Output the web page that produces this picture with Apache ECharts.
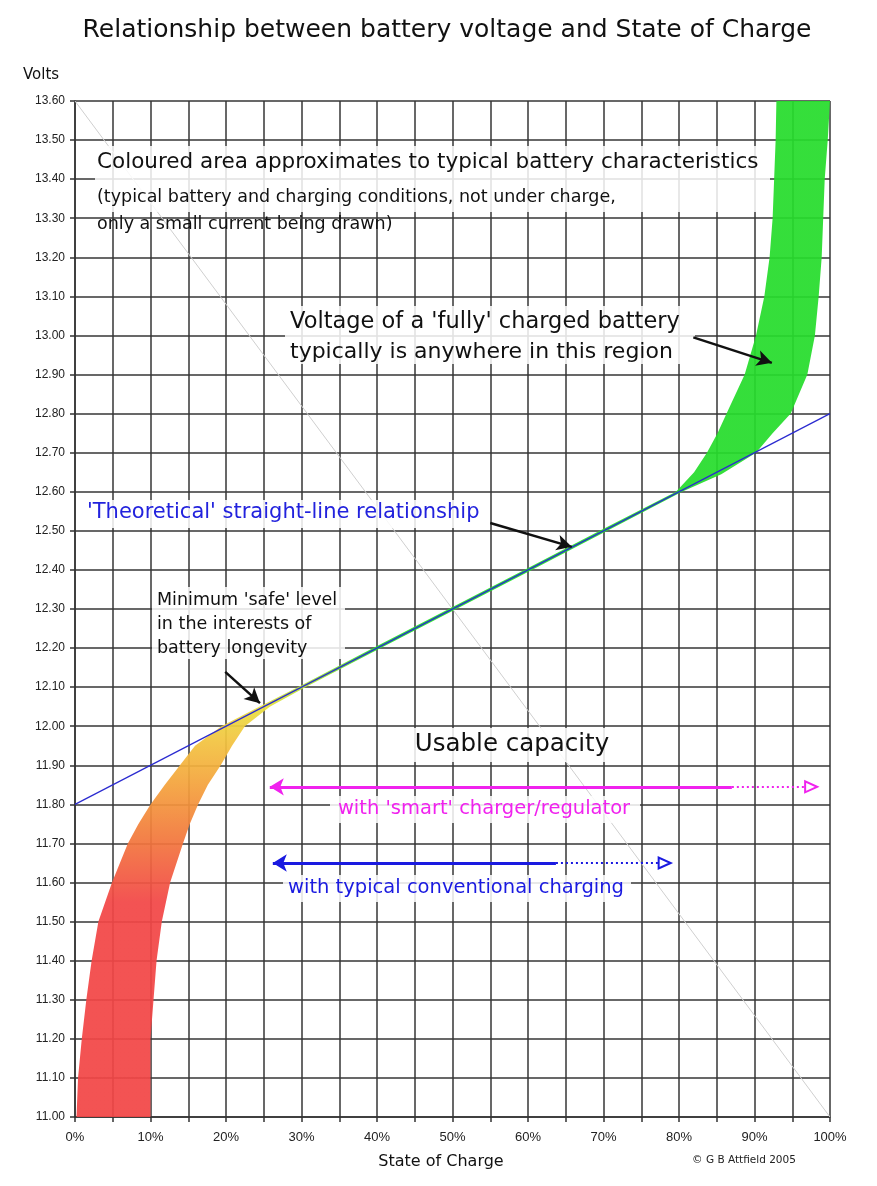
<!DOCTYPE html>
<html>
<head>
<meta charset="utf-8">
<title>Relationship between battery voltage and State of Charge</title>
<script src="https://cdn.jsdelivr.net/npm/echarts@6/dist/echarts.min.js"></script>
<style>
  html, body { margin: 0; padding: 0; background: #fff; }
  #main { width: 877px; height: 1186px; }
</style>
</head>
<body>
<div id="main"></div>
<script>
// band edges as [state of charge %, volts], read bottom to top
const bandUpperEdge = [
  [0.2, 11.0], [0.4, 11.1], [0.9, 11.2], [1.5, 11.3], [2.2, 11.4], [3.1, 11.5],
  [4.9, 11.6], [7.0, 11.7], [8.4, 11.75], [10.0, 11.8], [11.9, 11.85], [13.9, 11.9],
  [15.9, 11.95], [19.4, 12.0], [24.4, 12.05], [29.5, 12.1], [39.5, 12.2], [49.5, 12.3],
  [59.5, 12.4], [69.5, 12.5], [79.6, 12.6], [82.0, 12.65], [83.7, 12.7], [85.1, 12.75],
  [86.3, 12.8], [88.7, 12.9], [90.2, 13.0], [91.3, 13.1], [92.0, 13.2], [92.4, 13.3],
  [92.6, 13.4], [92.8, 13.5], [92.9, 13.6]
]
const bandLowerEdge = [
  [10.0, 11.0], [10.0, 11.1], [10.0, 11.2], [10.4, 11.3], [10.8, 11.4], [11.5, 11.5],
  [12.6, 11.6], [14.3, 11.7], [15.2, 11.75], [16.3, 11.8], [17.6, 11.85], [19.3, 11.9],
  [20.8, 11.95], [22.5, 12.0], [25.8, 12.05], [30.5, 12.1], [40.5, 12.2], [50.5, 12.3],
  [60.5, 12.4], [70.5, 12.5], [80.4, 12.6], [85.6, 12.645], [90.2, 12.7], [92.4, 12.75],
  [94.8, 12.8], [97.0, 12.9], [98.0, 13.0], [98.5, 13.1], [98.9, 13.2], [99.1, 13.3],
  [99.3, 13.4], [99.7, 13.5], [100, 13.6]
]
// colour of the band by voltage
const bandColours = [
  [11.0, '#f24646'], [11.55, '#f24646'], [11.72, '#f27a3c'], [11.85, '#f4a23c'],
  [11.97, '#f2c640'], [12.05, '#e8e040'], [12.12, '#9ce232'], [12.2, '#26dc2c']
]
const theoryLine = [[0, 11.8], [100, 12.8]]
const faintDiagonal = [[0, 13.6], [100, 11.0]]

// usable capacity arrows: [tip %, end of solid %, end of dotted %, volts]
const smartArrow = [25.8, 87.0, 97.5, 11.845]
const typicalArrow = [26.2, 63.7, 78.1, 11.65]

// pointer arrows: [from, to]
const pointerFull = [[81.9, 12.995], [92.3, 12.93]]
const pointerTheory = [[55.0, 12.52], [65.8, 12.459]]
const pointerSafe = [[19.9, 12.139], [24.5, 12.059]]

const axisFont = '"Liberation Sans", Arial, sans-serif'
const textFont = '"DejaVu Sans", Verdana, sans-serif'
const myChart = echarts.init(document.getElementById('main'))

function arrowPair (a, color) {
  return [
    [
      { coord: [a[0], a[3]], symbol: 'arrow', symbolSize: [13, 14], lineStyle: { color: color, width: 3, type: 'solid' } },
      { coord: [a[1], a[3]], symbol: 'none' }
    ],
    [
      { coord: [a[1], a[3]], symbol: 'none', lineStyle: { color: color, width: 2, type: [2, 3] } },
      { coord: [a[2], a[3]], symbol: 'emptyTriangle', symbolSize: [11, 12] }
    ]
  ]
}

function pointer (p) {
  return [
    { coord: p[0], symbol: 'none', lineStyle: { color: '#111', width: 2.5, type: 'solid' } },
    { coord: p[1], symbol: 'arrow', symbolSize: [12, 15] }
  ]
}

function box (x, y, w, h) {
  return { type: 'rect', z: 5, shape: { x: x, y: y, width: w, height: h }, style: { fill: 'rgba(255,255,255,0.85)' } }
}

function label (text, x, y, size, color, align) {
  return {
    type: 'text', z: 6, x: x, y: y,
    style: { text: text, font: size + 'px ' + textFont, fill: color || '#111', align: align || 'left', verticalAlign: 'middle' }
  }
}

const option = {
  animation: false,
  backgroundColor: '#fff',
  grid: { left: 75, right: 47, top: 101, bottom: 69 },
  xAxis: {
    type: 'value',
    min: 0,
    max: 100,
    interval: 5,
    axisLine: { show: true, lineStyle: { color: '#333', width: 1.5 } },
    axisTick: { show: true, length: 5, lineStyle: { color: '#333', width: 1.5 } },
    axisLabel: {
      margin: 14,
      color: '#222',
      fontSize: 13,
      fontFamily: axisFont,
      formatter: function (v) { return v % 10 === 0 ? v + '%' : '' }
    },
    splitLine: { show: true, lineStyle: { color: '#363636', width: 1.5 } }
  },
  yAxis: {
    type: 'value',
    min: 11.0,
    max: 13.6,
    interval: 0.1,
    axisLine: { show: true, lineStyle: { color: '#333', width: 1.5 } },
    axisTick: { show: true, length: 5, lineStyle: { color: '#333', width: 1.5 } },
    axisLabel: {
      margin: 10,
      color: '#222',
      fontSize: 12,
      fontFamily: axisFont,
      formatter: function (v) { return v.toFixed(2) }
    },
    splitLine: { show: true, lineStyle: { color: '#363636', width: 1.5 } }
  },
  series: [
    {
      type: 'line',
      data: faintDiagonal,
      showSymbol: false,
      silent: true,
      z: 1,
      lineStyle: { color: '#cfcfcf', width: 1 }
    },
    {
      type: 'custom',
      data: [[0, 11]],
      silent: true,
      z: 2,
      renderItem: function (params, api) {
        const pts = bandUpperEdge.map(p => api.coord(p))
          .concat(bandLowerEdge.slice().reverse().map(p => api.coord(p)))
        const y0 = api.coord([0, bandColours[0][0]])[1]
        const y1 = api.coord([0, bandColours[bandColours.length - 1][0]])[1]
        const span = bandColours[bandColours.length - 1][0] - bandColours[0][0]
        const stops = bandColours.map(c => ({ offset: (c[0] - bandColours[0][0]) / span, color: c[1] }))
        return {
          type: 'polygon',
          shape: { points: pts },
          style: { fill: new echarts.graphic.LinearGradient(0, y0, 0, y1, stops, true), opacity: 0.93 }
        }
      }
    },
    {
      type: 'line',
      data: theoryLine,
      showSymbol: false,
      silent: true,
      z: 3,
      lineStyle: { color: '#2b2bd0', width: 1.2 },
      markLine: {
        silent: true,
        label: { show: false },
        emphasis: { disabled: true },
        data: arrowPair(smartArrow, '#f022ee')
          .concat(arrowPair(typicalArrow, '#1a1ae0'))
          .concat([pointer(pointerFull), pointer(pointerTheory), pointer(pointerSafe)])
      }
    }
  ],
  graphic: [
    label('Relationship between battery voltage and State of Charge', 447, 30, 25, '#111', 'center'),
    label('Volts', 23, 75, 15),
    box(95, 146, 675, 66),
    label('Coloured area approximates to typical battery characteristics', 97, 162, 21.5),
    label('(typical battery and charging conditions, not under charge,', 97, 197, 17.5),
    label('only a small current being drawn)', 97, 224, 17.5),
    box(285, 306, 410, 58),
    label('Voltage of a \'fully\' charged battery', 290, 322, 22.5),
    label('typically is anywhere in this region', 290, 352, 22),
    box(84, 500, 405, 28),
    label('\'Theoretical\' straight-line relationship', 87, 513, 21, '#2222dd'),
    box(152, 587, 193, 72),
    label('Minimum \'safe\' level', 157, 600, 17.5),
    label('in the interests of', 157, 624, 17.5),
    label('battery longevity', 157, 648, 17.5),
    box(403, 728, 220, 34),
    label('Usable capacity', 512, 745, 24.5, '#111', 'center'),
    box(330, 796, 310, 27),
    label('with \'smart\' charger/regulator', 484, 809, 19.5, '#f022ee', 'center'),
    box(283, 875, 348, 27),
    label('with typical conventional charging', 456, 888, 19.5, '#1a1ae0', 'center'),
    label('State of Charge', 441, 1162, 16, '#111', 'center'),
    label('© G B Attfield 2005', 744, 1160, 10.5, '#222', 'center')
  ]
}
myChart.setOption(option)
</script>
</body>
</html>
